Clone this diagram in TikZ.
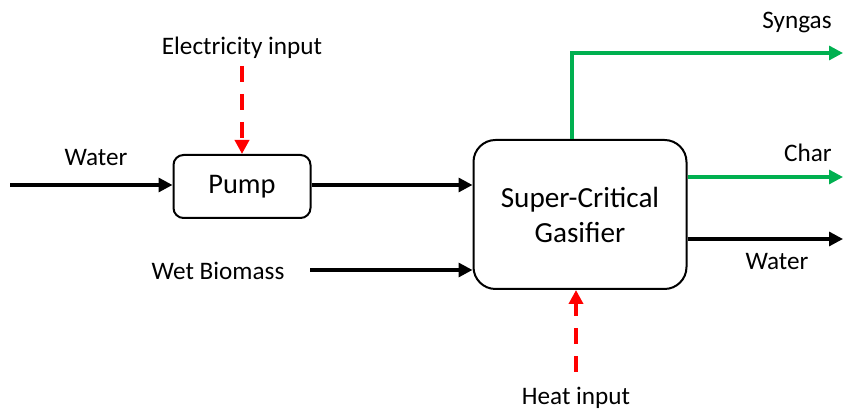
\documentclass[tikz,border=0pt]{standalone}
\usepackage{fontspec}
\setmainfont{Carlito}
\usetikzlibrary{arrows.meta}
\definecolor{flowgreen}{RGB}{0,176,80}
\definecolor{flowred}{RGB}{255,0,0}
\tikzset{
  unit/.style={draw=black, line width=1pt, rounded corners=#1, align=center, inner sep=0pt},
  lbl/.style={font=\fontsize{12.6}{15}\selectfont, inner sep=0pt},
  flow/.style={line width=1.6pt, -{Triangle[length=7pt,width=7pt]}},
  gflow/.style={flow, draw=flowgreen},
  eflow/.style={line width=1.8pt, draw=flowred, dash pattern=on 8pt off 6pt, -{Triangle[length=7pt,width=7pt,fill=flowred]}, flowred}
}
\begin{document}
\begin{tikzpicture}[x=0.5pt,y=-0.5pt]
\useasboundingbox (0,0) rectangle (843,410);
% units
\node[unit=5pt, minimum width=68.5pt, minimum height=31.5pt, font=\fontsize{14.2}{17}\selectfont] (pump) at (242,186.5) {Pump};
\node[unit=11pt, minimum width=106.5pt, minimum height=74.5pt, font=\fontsize{14.6}{17.5}\selectfont] (gas) at (580,214.5) {Super-Critical\\Gasifier};
% labels
\node[lbl] (lwater) at (96,158) {Water};
\node[lbl] (lelec) at (242,48) {Electricity input};
\node[lbl] (lwb) at (218,271) {Wet Biomass};
\node[lbl] (lheat) at (576,398) {Heat input};
\node[lbl] (lsyn) at (797,22) {Syngas};
\node[lbl] (lchar) at (808,153) {Char};
\node[lbl] (lwout) at (777,262) {Water};
% free ends
\coordinate (win) at (10,185);
\coordinate (wbs) at (310,270);
\coordinate (elec) at (242,66);
\coordinate (heat) at (576,372);
\coordinate (syn) at (843,53);
\coordinate (charend) at (843,177);
\coordinate (wend) at (843,239);
% connectors
\draw[flow] (win) -- (win -| pump.west);
\draw[flow] (pump.east |- win) -- (win -| gas.west);
\draw[flow] (wbs) -- (wbs -| gas.west);
\draw[eflow] (elec) -- (pump.north);
\draw[eflow] (heat) -- (heat |- gas.south);
\draw[gflow] ([xshift=-4pt]gas.north) |- (syn);
\draw[gflow] (charend -| gas.east) -- (charend);
\draw[flow] (wend -| gas.east) -- (wend);
\end{tikzpicture}
\end{document}
